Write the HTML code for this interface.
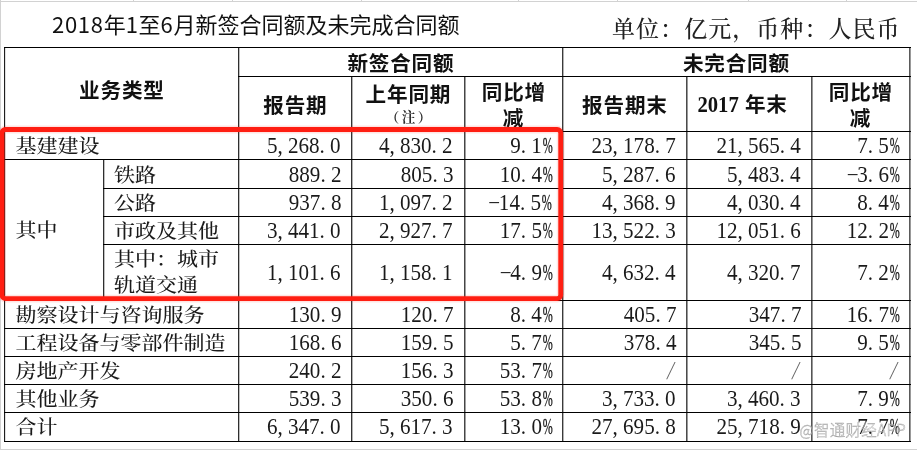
<!DOCTYPE html>
<html lang="zh-CN"><head><meta charset="utf-8"><title>2018年1至6月新签合同额及未完成合同额</title>
<style>
html,body{margin:0;padding:0;background:#fff;}
body{width:917px;height:450px;overflow:hidden;position:relative;}
div{box-sizing:border-box;}
.g{position:absolute;background:#d2d2d2;}
.ln{position:absolute;background:#000;}
.c{position:absolute;display:flex;align-items:center;white-space:nowrap;color:#1a1a1a;}
.cj{font-family:"Liberation Serif","Noto Serif CJK SC",serif;font-size:21.00px;font-weight:500;line-height:26px;letter-spacing:0.00px;}
.cs{display:inline-block;transform:scaleY(0.900);transform-origin:50% 50%;}
.cj2 .cs{line-height:29.20px;}
.nm{font-family:"Liberation Serif","Noto Serif CJK SC",serif;font-size:22.20px;line-height:1;}
.nm .ns{display:inline-block;transform:scaleX(0.950);transform-origin:100% 50%;}
.nm i{font-style:normal;display:inline-block;width:.5em;}
.nm i.p{text-align:left;text-indent:0.000em;}
.nm i.m{text-align:center;}
.nm i.m{overflow:visible;}
.nm i.pc{text-align:left;text-indent:0.40px;}
.nm i.pc b{font-weight:normal;-webkit-text-stroke:0.35px currentColor;display:inline-block;transform:scaleX(0.570);transform-origin:0 50%;}
.nm i.sl{width:auto;transform:translate(-2.50px,0.30px) scale(1.000,1.160) skewX(-14.00deg);color:#666;}
.hd{font-family:"Noto Sans CJK SC",sans-serif;font-weight:bold;font-size:20.60px;line-height:1;color:#111;letter-spacing:0.80px;text-indent:0.80px;}
.hd .tc{text-align:center;line-height:26.50px;}
.hd .zhu{font-family:"Liberation Serif","Noto Serif CJK SC",serif;font-weight:bold;font-size:13.50px;line-height:16.00px;color:#2a2a2a;letter-spacing:2.50px;margin-right:-2.50px;}
.hd .yr{font-family:"Liberation Serif",serif;font-weight:bold;letter-spacing:0;font-size:22.50px;display:inline-block;transform:translateY(-0.40px) scaleX(0.920);transform-origin:100% 50%;}
.title{position:absolute;left:52.00px;top:12.00px;font-family:"Noto Sans CJK SC",sans-serif;font-size:22.00px;line-height:1;white-space:nowrap;color:#111;letter-spacing:0.00px;}
.title .td{letter-spacing:0.70px;}
.unit{position:absolute;left:612.00px;top:18.30px;font-family:"Liberation Serif","Noto Serif CJK SC",serif;font-size:23.00px;line-height:1;white-space:nowrap;color:#222;font-weight:500;letter-spacing:1.05px;}
.red{position:absolute;left:0;top:0;}
.wm{position:absolute;left:799.50px;top:421.50px;font-family:"Noto Sans CJK SC",sans-serif;font-size:15.50px;line-height:1;white-space:nowrap;color:rgba(255,255,255,.55);-webkit-text-stroke:0.45px rgba(140,140,140,.8);font-weight:300;letter-spacing:0.30px;}
</style></head><body>
<div class="g" style="left:0;top:1px;width:917px;height:1px"></div>
<div class="g" style="left:0;top:0;width:1px;height:450px"></div>
<div class="g" style="left:0;top:449px;width:917px;height:1px"></div>
<div class="g" style="left:133px;top:0;width:1px;height:2px"></div>
<div class="g" style="left:232px;top:0;width:1px;height:2px"></div>
<div class="g" style="left:361px;top:0;width:1px;height:2px"></div>
<div class="g" style="left:518px;top:0;width:1px;height:2px"></div>
<div class="g" style="left:617px;top:0;width:1px;height:2px"></div>
<div class="g" style="left:748px;top:0;width:1px;height:2px"></div>
<div class="g" style="left:846px;top:0;width:1px;height:2px"></div>
<div class="title"><span class="td">2018</span>年<span class="td">1</span>至<span class="td">6</span>月新签合同额及未完成合同额</div>
<div class="unit">单位：亿元，币种：人民币</div>
<div class="ln" style="left:4px;top:47px;width:1px;height:395px;background:#1e1e1e;box-shadow:1px 0 0 rgba(0,0,0,0.12)"></div>
<div class="ln" style="left:103px;top:159px;width:1px;height:142px;background:#2e2e2e;box-shadow:1px 0 0 rgba(0,0,0,0.25)"></div>
<div class="ln" style="left:238px;top:47px;width:1px;height:395px;background:#2e2e2e;box-shadow:1px 0 0 rgba(0,0,0,0.25)"></div>
<div class="ln" style="left:351px;top:76px;width:1px;height:366px;background:#333;box-shadow:1px 0 0 rgba(0,0,0,0.30)"></div>
<div class="ln" style="left:464px;top:76px;width:1px;height:366px;background:#454545;box-shadow:1px 0 0 rgba(0,0,0,0.37)"></div>
<div class="ln" style="left:562px;top:47px;width:1px;height:395px;background:#3a3a3a;box-shadow:1px 0 0 rgba(0,0,0,0.30)"></div>
<div class="ln" style="left:686px;top:76px;width:1px;height:366px;background:#4a4a4a;box-shadow:1px 0 0 rgba(0,0,0,0.40)"></div>
<div class="ln" style="left:811px;top:76px;width:1px;height:366px;background:#555;box-shadow:1px 0 0 rgba(0,0,0,0.40)"></div>
<div class="ln" style="left:909px;top:47px;width:1px;height:395px;background:#5a5a5a;box-shadow:1px 0 0 rgba(0,0,0,0.40)"></div>
<div class="ln" style="left:4px;top:47px;width:907px;height:1px"></div>
<div class="ln" style="left:238px;top:76px;width:673px;height:1px"></div>
<div class="ln" style="left:4px;top:131px;width:907px;height:1px"></div>
<div class="ln" style="left:4px;top:159px;width:907px;height:1px"></div>
<div class="ln" style="left:103px;top:188px;width:808px;height:1px"></div>
<div class="ln" style="left:103px;top:216px;width:808px;height:1px"></div>
<div class="ln" style="left:103px;top:244px;width:808px;height:1px"></div>
<div class="ln" style="left:4px;top:300px;width:907px;height:1px"></div>
<div class="ln" style="left:4px;top:328px;width:907px;height:1px"></div>
<div class="ln" style="left:4px;top:356px;width:907px;height:1px"></div>
<div class="ln" style="left:4px;top:384px;width:907px;height:1px"></div>
<div class="ln" style="left:4px;top:412px;width:907px;height:1px"></div>
<div class="ln" style="left:4px;top:441px;width:907px;height:1px"></div>
<div class="c hd" style="left:5px;top:48.00px;width:233px;height:83px;justify-content:center;padding-right:0.00px">业务类型</div>
<div class="c hd" style="left:239px;top:48.00px;width:323px;height:28px;justify-content:center;padding-right:0.00px">新签合同额</div>
<div class="c hd" style="left:563px;top:48.00px;width:346px;height:28px;justify-content:center;padding-right:0.00px">未完合同额</div>
<div class="c hd" style="left:239px;top:77.00px;width:112px;height:54px;justify-content:center;padding-right:0.00px">报告期</div>
<div class="c hd" style="left:352px;top:77.00px;width:112px;height:54px;justify-content:center;padding-right:0.00px"><div class="tc"><div style="position:relative;top:-3.00px">上年同期</div><div class="zhu" style="position:relative;top:0.50px">（注）</div></div></div>
<div class="c hd hd2" style="left:465px;top:77.00px;width:97px;height:54px;justify-content:center;padding-right:0.00px"><div class="tc">同比增<br>减</div></div>
<div class="c hd" style="left:563px;top:77.00px;width:123px;height:54px;justify-content:center;padding-right:0.00px">报告期末</div>
<div class="c hd" style="left:687px;top:77.00px;width:124px;height:54px;justify-content:center;padding-right:0.00px"><span style="position:relative;left:-9.00px;top:1.00px"><span class="yr">2017</span><span style="display:inline-block;width:6.00px"></span>年末</span></div>
<div class="c hd hd2" style="left:812px;top:77.00px;width:97px;height:54px;justify-content:center;padding-right:0.00px"><div class="tc">同比增<br>减</div></div>
<div class="c cj" style="left:5px;top:160.60px;width:98px;height:140px;justify-content:flex-start;padding-left:10.50px"><span class="cs">其中</span></div>
<div class="c cj" style="left:5px;top:133.40px;width:233px;height:27px;justify-content:flex-start;padding-left:10.50px"><span class="cs">基建建设</span></div>
<div class="c nm" style="left:239px;top:132.80px;width:112px;height:27px;justify-content:flex-end;padding-right:10.00px"><span class="ns">5<i class="p">,</i>268<i class="p">.</i>0</span></div>
<div class="c nm" style="left:352px;top:132.80px;width:112px;height:27px;justify-content:flex-end;padding-right:11.00px"><span class="ns">4<i class="p">,</i>830<i class="p">.</i>2</span></div>
<div class="c nm" style="left:465px;top:132.80px;width:97px;height:27px;justify-content:flex-end;padding-right:10.00px"><span class="ns">9<i class="p">.</i>1<i class="pc"><b>%</b></i></span></div>
<div class="c nm" style="left:563px;top:132.80px;width:123px;height:27px;justify-content:flex-end;padding-right:10.00px"><span class="ns">23<i class="p">,</i>178<i class="p">.</i>7</span></div>
<div class="c nm" style="left:687px;top:132.80px;width:124px;height:27px;justify-content:flex-end;padding-right:10.00px"><span class="ns">21<i class="p">,</i>565<i class="p">.</i>4</span></div>
<div class="c nm" style="left:812px;top:132.80px;width:97px;height:27px;justify-content:flex-end;padding-right:10.00px"><span class="ns">7<i class="p">.</i>5<i class="pc"><b>%</b></i></span></div>
<div class="c cj" style="left:104px;top:162.20px;width:134px;height:28px;justify-content:flex-start;padding-left:10.00px"><span class="cs">铁路</span></div>
<div class="c nm" style="left:239px;top:160.80px;width:112px;height:28px;justify-content:flex-end;padding-right:10.00px"><span class="ns">889<i class="p">.</i>2</span></div>
<div class="c nm" style="left:352px;top:160.80px;width:112px;height:28px;justify-content:flex-end;padding-right:11.00px"><span class="ns">805<i class="p">.</i>3</span></div>
<div class="c nm" style="left:465px;top:160.80px;width:97px;height:28px;justify-content:flex-end;padding-right:10.00px"><span class="ns">10<i class="p">.</i>4<i class="pc"><b>%</b></i></span></div>
<div class="c nm" style="left:563px;top:160.80px;width:123px;height:28px;justify-content:flex-end;padding-right:10.00px"><span class="ns">5<i class="p">,</i>287<i class="p">.</i>6</span></div>
<div class="c nm" style="left:687px;top:160.80px;width:124px;height:28px;justify-content:flex-end;padding-right:10.00px"><span class="ns">5<i class="p">,</i>483<i class="p">.</i>4</span></div>
<div class="c nm" style="left:812px;top:160.80px;width:97px;height:28px;justify-content:flex-end;padding-right:10.00px"><span class="ns"><i class="m">&#8722;</i>3<i class="p">.</i>6<i class="pc"><b>%</b></i></span></div>
<div class="c cj" style="left:104px;top:190.40px;width:134px;height:27px;justify-content:flex-start;padding-left:10.00px"><span class="cs">公路</span></div>
<div class="c nm" style="left:239px;top:189.80px;width:112px;height:27px;justify-content:flex-end;padding-right:10.00px"><span class="ns">937<i class="p">.</i>8</span></div>
<div class="c nm" style="left:352px;top:189.80px;width:112px;height:27px;justify-content:flex-end;padding-right:11.00px"><span class="ns">1<i class="p">,</i>097<i class="p">.</i>2</span></div>
<div class="c nm" style="left:465px;top:189.80px;width:97px;height:27px;justify-content:flex-end;padding-right:10.00px"><span class="ns"><i class="m">&#8722;</i>14<i class="p">.</i>5<i class="pc"><b>%</b></i></span></div>
<div class="c nm" style="left:563px;top:189.80px;width:123px;height:27px;justify-content:flex-end;padding-right:10.00px"><span class="ns">4<i class="p">,</i>368<i class="p">.</i>9</span></div>
<div class="c nm" style="left:687px;top:189.80px;width:124px;height:27px;justify-content:flex-end;padding-right:10.00px"><span class="ns">4<i class="p">,</i>030<i class="p">.</i>4</span></div>
<div class="c nm" style="left:812px;top:189.80px;width:97px;height:27px;justify-content:flex-end;padding-right:10.00px"><span class="ns">8<i class="p">.</i>4<i class="pc"><b>%</b></i></span></div>
<div class="c cj" style="left:104px;top:218.40px;width:134px;height:27px;justify-content:flex-start;padding-left:10.00px"><span class="cs">市政及其他</span></div>
<div class="c nm" style="left:239px;top:217.80px;width:112px;height:27px;justify-content:flex-end;padding-right:10.00px"><span class="ns">3<i class="p">,</i>441<i class="p">.</i>0</span></div>
<div class="c nm" style="left:352px;top:217.80px;width:112px;height:27px;justify-content:flex-end;padding-right:11.00px"><span class="ns">2<i class="p">,</i>927<i class="p">.</i>7</span></div>
<div class="c nm" style="left:465px;top:217.80px;width:97px;height:27px;justify-content:flex-end;padding-right:10.00px"><span class="ns">17<i class="p">.</i>5<i class="pc"><b>%</b></i></span></div>
<div class="c nm" style="left:563px;top:217.80px;width:123px;height:27px;justify-content:flex-end;padding-right:10.00px"><span class="ns">13<i class="p">,</i>522<i class="p">.</i>3</span></div>
<div class="c nm" style="left:687px;top:217.80px;width:124px;height:27px;justify-content:flex-end;padding-right:10.00px"><span class="ns">12<i class="p">,</i>051<i class="p">.</i>6</span></div>
<div class="c nm" style="left:812px;top:217.80px;width:97px;height:27px;justify-content:flex-end;padding-right:10.00px"><span class="ns">12<i class="p">.</i>2<i class="pc"><b>%</b></i></span></div>
<div class="c cj cj2" style="left:104px;top:245.60px;width:134px;height:55px;justify-content:flex-start;padding-left:10.00px"><span class="cs">其中：城市<br>轨道交通</span></div>
<div class="c nm" style="left:239px;top:245.80px;width:112px;height:55px;justify-content:flex-end;padding-right:10.00px"><span class="ns">1<i class="p">,</i>101<i class="p">.</i>6</span></div>
<div class="c nm" style="left:352px;top:245.80px;width:112px;height:55px;justify-content:flex-end;padding-right:11.00px"><span class="ns">1<i class="p">,</i>158<i class="p">.</i>1</span></div>
<div class="c nm" style="left:465px;top:245.80px;width:97px;height:55px;justify-content:flex-end;padding-right:10.00px"><span class="ns"><i class="m">&#8722;</i>4<i class="p">.</i>9<i class="pc"><b>%</b></i></span></div>
<div class="c nm" style="left:563px;top:245.80px;width:123px;height:55px;justify-content:flex-end;padding-right:10.00px"><span class="ns">4<i class="p">,</i>632<i class="p">.</i>4</span></div>
<div class="c nm" style="left:687px;top:245.80px;width:124px;height:55px;justify-content:flex-end;padding-right:10.00px"><span class="ns">4<i class="p">,</i>320<i class="p">.</i>7</span></div>
<div class="c nm" style="left:812px;top:245.80px;width:97px;height:55px;justify-content:flex-end;padding-right:10.00px"><span class="ns">7<i class="p">.</i>2<i class="pc"><b>%</b></i></span></div>
<div class="c cj" style="left:5px;top:302.40px;width:233px;height:27px;justify-content:flex-start;padding-left:10.50px"><span class="cs">勘察设计与咨询服务</span></div>
<div class="c nm" style="left:239px;top:301.80px;width:112px;height:27px;justify-content:flex-end;padding-right:10.00px"><span class="ns">130<i class="p">.</i>9</span></div>
<div class="c nm" style="left:352px;top:301.80px;width:112px;height:27px;justify-content:flex-end;padding-right:11.00px"><span class="ns">120<i class="p">.</i>7</span></div>
<div class="c nm" style="left:465px;top:301.80px;width:97px;height:27px;justify-content:flex-end;padding-right:10.00px"><span class="ns">8<i class="p">.</i>4<i class="pc"><b>%</b></i></span></div>
<div class="c nm" style="left:563px;top:301.80px;width:123px;height:27px;justify-content:flex-end;padding-right:10.00px"><span class="ns">405<i class="p">.</i>7</span></div>
<div class="c nm" style="left:687px;top:301.80px;width:124px;height:27px;justify-content:flex-end;padding-right:10.00px"><span class="ns">347<i class="p">.</i>7</span></div>
<div class="c nm" style="left:812px;top:301.80px;width:97px;height:27px;justify-content:flex-end;padding-right:10.00px"><span class="ns">16<i class="p">.</i>7<i class="pc"><b>%</b></i></span></div>
<div class="c cj" style="left:5px;top:330.40px;width:233px;height:27px;justify-content:flex-start;padding-left:10.50px"><span class="cs">工程设备与零部件制造</span></div>
<div class="c nm" style="left:239px;top:329.80px;width:112px;height:27px;justify-content:flex-end;padding-right:10.00px"><span class="ns">168<i class="p">.</i>6</span></div>
<div class="c nm" style="left:352px;top:329.80px;width:112px;height:27px;justify-content:flex-end;padding-right:11.00px"><span class="ns">159<i class="p">.</i>5</span></div>
<div class="c nm" style="left:465px;top:329.80px;width:97px;height:27px;justify-content:flex-end;padding-right:10.00px"><span class="ns">5<i class="p">.</i>7<i class="pc"><b>%</b></i></span></div>
<div class="c nm" style="left:563px;top:329.80px;width:123px;height:27px;justify-content:flex-end;padding-right:10.00px"><span class="ns">378<i class="p">.</i>4</span></div>
<div class="c nm" style="left:687px;top:329.80px;width:124px;height:27px;justify-content:flex-end;padding-right:10.00px"><span class="ns">345<i class="p">.</i>5</span></div>
<div class="c nm" style="left:812px;top:329.80px;width:97px;height:27px;justify-content:flex-end;padding-right:10.00px"><span class="ns">9<i class="p">.</i>5<i class="pc"><b>%</b></i></span></div>
<div class="c cj" style="left:5px;top:358.40px;width:233px;height:27px;justify-content:flex-start;padding-left:10.50px"><span class="cs">房地产开发</span></div>
<div class="c nm" style="left:239px;top:357.80px;width:112px;height:27px;justify-content:flex-end;padding-right:10.00px"><span class="ns">240<i class="p">.</i>2</span></div>
<div class="c nm" style="left:352px;top:357.80px;width:112px;height:27px;justify-content:flex-end;padding-right:11.00px"><span class="ns">156<i class="p">.</i>3</span></div>
<div class="c nm" style="left:465px;top:357.80px;width:97px;height:27px;justify-content:flex-end;padding-right:10.00px"><span class="ns">53<i class="p">.</i>7<i class="pc"><b>%</b></i></span></div>
<div class="c nm" style="left:563px;top:357.80px;width:123px;height:27px;justify-content:flex-end;padding-right:10.00px"><span class="ns"><i class="sl">/</i></span></div>
<div class="c nm" style="left:687px;top:357.80px;width:124px;height:27px;justify-content:flex-end;padding-right:10.00px"><span class="ns"><i class="sl">/</i></span></div>
<div class="c nm" style="left:812px;top:357.80px;width:97px;height:27px;justify-content:flex-end;padding-right:10.00px"><span class="ns"><i class="sl">/</i></span></div>
<div class="c cj" style="left:5px;top:386.40px;width:233px;height:27px;justify-content:flex-start;padding-left:10.50px"><span class="cs">其他业务</span></div>
<div class="c nm" style="left:239px;top:385.80px;width:112px;height:27px;justify-content:flex-end;padding-right:10.00px"><span class="ns">539<i class="p">.</i>3</span></div>
<div class="c nm" style="left:352px;top:385.80px;width:112px;height:27px;justify-content:flex-end;padding-right:11.00px"><span class="ns">350<i class="p">.</i>6</span></div>
<div class="c nm" style="left:465px;top:385.80px;width:97px;height:27px;justify-content:flex-end;padding-right:10.00px"><span class="ns">53<i class="p">.</i>8<i class="pc"><b>%</b></i></span></div>
<div class="c nm" style="left:563px;top:385.80px;width:123px;height:27px;justify-content:flex-end;padding-right:10.00px"><span class="ns">3<i class="p">,</i>733<i class="p">.</i>0</span></div>
<div class="c nm" style="left:687px;top:385.80px;width:124px;height:27px;justify-content:flex-end;padding-right:10.00px"><span class="ns">3<i class="p">,</i>460<i class="p">.</i>3</span></div>
<div class="c nm" style="left:812px;top:385.80px;width:97px;height:27px;justify-content:flex-end;padding-right:10.00px"><span class="ns">7<i class="p">.</i>9<i class="pc"><b>%</b></i></span></div>
<div class="c cj" style="left:5px;top:414.40px;width:233px;height:28px;justify-content:flex-start;padding-left:10.50px"><span class="cs">合计</span></div>
<div class="c nm" style="left:239px;top:412.80px;width:112px;height:28px;justify-content:flex-end;padding-right:10.00px"><span class="ns">6<i class="p">,</i>347<i class="p">.</i>0</span></div>
<div class="c nm" style="left:352px;top:412.80px;width:112px;height:28px;justify-content:flex-end;padding-right:11.00px"><span class="ns">5<i class="p">,</i>617<i class="p">.</i>3</span></div>
<div class="c nm" style="left:465px;top:412.80px;width:97px;height:28px;justify-content:flex-end;padding-right:10.00px"><span class="ns">13<i class="p">.</i>0<i class="pc"><b>%</b></i></span></div>
<div class="c nm" style="left:563px;top:412.80px;width:123px;height:28px;justify-content:flex-end;padding-right:10.00px"><span class="ns">27<i class="p">,</i>695<i class="p">.</i>8</span></div>
<div class="c nm" style="left:687px;top:412.80px;width:124px;height:28px;justify-content:flex-end;padding-right:10.00px"><span class="ns">25<i class="p">,</i>718<i class="p">.</i>9</span></div>
<div class="c nm" style="left:812px;top:412.80px;width:97px;height:28px;justify-content:flex-end;padding-right:10.00px"><span class="ns">7<i class="p">.</i>7<i class="pc"><b>%</b></i></span></div>
<svg class="red" width="917" height="450" viewBox="0 0 917 450"><rect x="2.00" y="129.50" width="558.70" height="169.10" rx="3.50" fill="none" stroke="#ff1e12" stroke-width="7.80" stroke-opacity="0.12"/><rect x="2.00" y="129.50" width="558.70" height="169.10" rx="3.50" fill="none" stroke="#ff1e12" stroke-width="4.80"/></svg>
<div class="wm">@智通财经APP</div>
</body></html>
